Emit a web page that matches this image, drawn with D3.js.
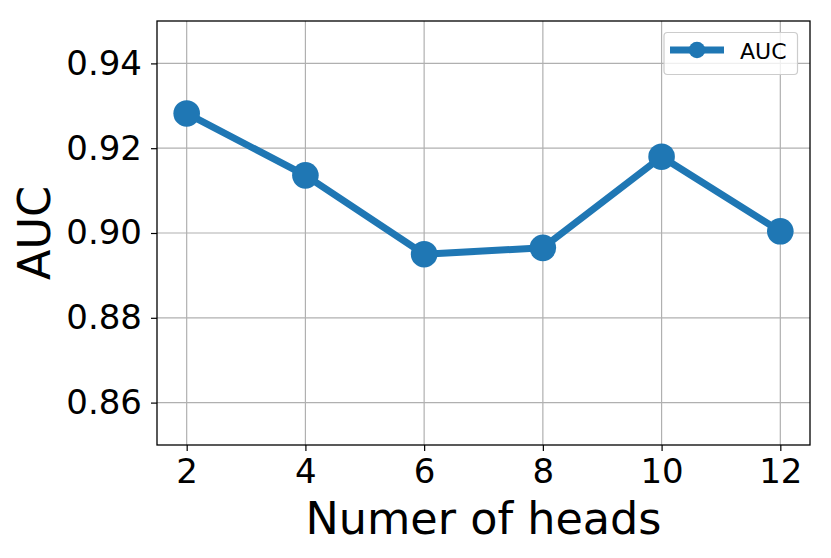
<!DOCTYPE html>
<html>
<head>
<meta charset="utf-8">
<script src="https://cdn.jsdelivr.net/npm/d3@7"></script>
<style>
  body { margin: 0; background: white; }
  svg { display: block; font-family: "DejaVu Sans", sans-serif; }
</style>
</head>
<body>
<div id="chart"></div>
<script>
// data
var heads = [2, 4, 6, 8, 10, 12];
var auc = [0.9282, 0.9136, 0.8950, 0.8965, 0.9180, 0.9004];
var xTicks = [2, 4, 6, 8, 10, 12];
var yTicks = [0.86, 0.88, 0.90, 0.92, 0.94];

var width = 831, height = 558;
var margin = {left: 157, right: 21, top: 21, bottom: 113};
var color = "#1f77b4";

var svg = d3.select("#chart").append("svg")
  .attr("width", width)
  .attr("height", height);

var x = d3.scaleLinear().domain([1.5, 12.5]).range([margin.left, width - margin.right]);
var y = d3.scaleLinear().domain([0.85, 0.95]).range([height - margin.bottom, margin.top]);

// grid
svg.append("g").selectAll("line.gx")
  .data(xTicks).enter().append("line")
  .attr("x1", d => x(d)).attr("x2", d => x(d))
  .attr("y1", y(0.85)).attr("y2", y(0.95))
  .attr("stroke", "#b0b0b0").attr("stroke-width", 1.2);
svg.append("g").selectAll("line.gy")
  .data(yTicks).enter().append("line")
  .attr("y1", d => y(d)).attr("y2", d => y(d))
  .attr("x1", x(1.5)).attr("x2", x(12.5))
  .attr("stroke", "#b0b0b0").attr("stroke-width", 1.2);

// axes
var xAxis = svg.append("g")
  .attr("transform", "translate(0," + (height - margin.bottom) + ")")
  .call(d3.axisBottom(x).tickValues(xTicks).tickSize(6).tickPadding(8).tickFormat(d3.format("d")));
var yAxis = svg.append("g")
  .attr("transform", "translate(" + margin.left + ",0)")
  .call(d3.axisLeft(y).tickValues(yTicks).tickSize(6).tickPadding(9).tickFormat(d3.format(".2f")));

[xAxis, yAxis].forEach(function(a) {
  a.select(".domain").remove();
  a.selectAll(".tick line").attr("stroke", "#000").attr("stroke-width", 1.2);
  a.selectAll(".tick text").attr("fill", "#000")
    .style("font-size", "34px").style("font-family", "DejaVu Sans");
});

// frame
svg.append("rect")
  .attr("x", x(1.5)).attr("y", y(0.95))
  .attr("width", x(12.5) - x(1.5)).attr("height", y(0.85) - y(0.95))
  .attr("fill", "none").attr("stroke", "#000").attr("stroke-width", 1.3);

// line + markers
var line = d3.line().x((d, i) => x(heads[i])).y(d => y(d));
svg.append("path")
  .datum(auc)
  .attr("d", line)
  .attr("fill", "none")
  .attr("stroke", color)
  .attr("stroke-width", 7)
  .attr("stroke-linejoin", "round");

svg.selectAll("circle.pt")
  .data(auc).enter().append("circle")
  .attr("class", "pt")
  .attr("cx", (d, i) => x(heads[i]))
  .attr("cy", d => y(d))
  .attr("r", 13.3)
  .attr("fill", color);

// axis labels
svg.append("text")
  .attr("x", (x(1.5) + x(12.5)) / 2)
  .attr("y", 534)
  .attr("text-anchor", "middle")
  .style("font-size", "44.5px")
  .text("Numer of heads");

svg.append("text")
  .attr("transform", "translate(50," + ((y(0.85) + y(0.95)) / 2) + ") rotate(-90)")
  .attr("text-anchor", "middle")
  .style("font-size", "44.5px")
  .text("AUC");

// legend
var lg = svg.append("g");
lg.append("rect")
  .attr("x", 664).attr("y", 32.5)
  .attr("width", 133.5).attr("height", 42)
  .attr("rx", 3.5)
  .attr("fill", "white").attr("fill-opacity", 0.8)
  .attr("stroke", "#cccccc").attr("stroke-width", 1.2);
lg.append("line")
  .attr("x1", 670).attr("x2", 724)
  .attr("y1", 50).attr("y2", 50)
  .attr("stroke", color).attr("stroke-width", 7);
lg.append("circle")
  .attr("cx", 697).attr("cy", 50).attr("r", 8.3)
  .attr("fill", color);
lg.append("text")
  .attr("x", 740).attr("y", 58.5)
  .style("font-size", "22px")
  .text("AUC");
</script>
</body>
</html>
